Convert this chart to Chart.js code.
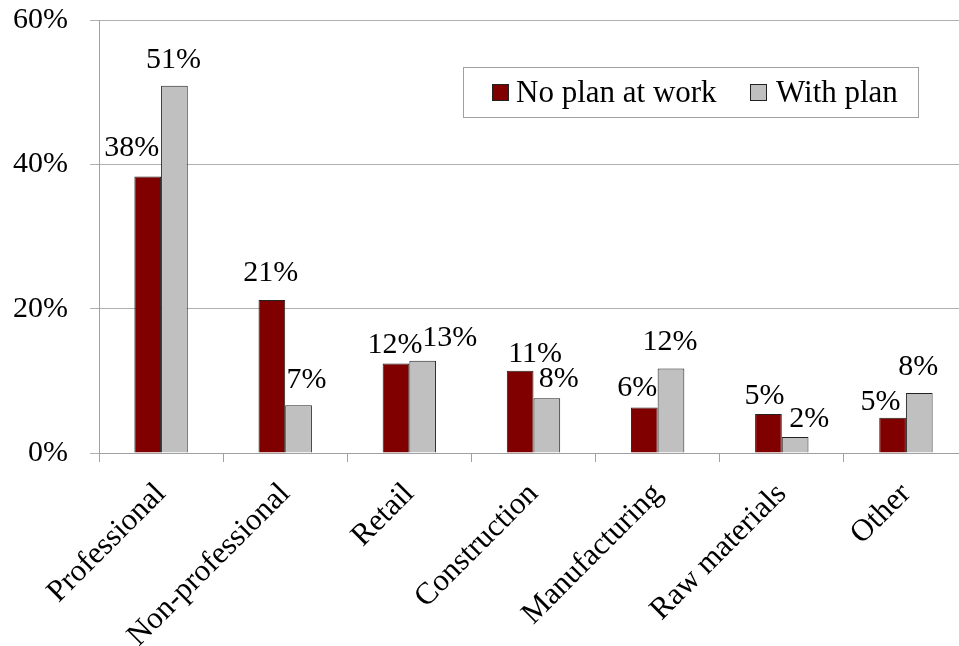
<!DOCTYPE html>
<html>
<head>
<meta charset="utf-8">
<script src="https://cdn.jsdelivr.net/npm/chart.js@4/dist/chart.umd.min.js"></script>
<style>
  html, body { margin: 0; padding: 0; background: #fff; overflow: hidden; }
  #wrap { position: relative; width: 980px; height: 666px; margin-top: -20px; }
</style>
</head>
<body>
<div id="wrap"><canvas id="chart"></canvas></div>
<script>
const categories = ["Professional", "Non-professional", "Retail", "Construction", "Manufacturing", "Raw materials", "Other"];
const noPlan = [38.3, 21.2, 12.4, 11.4, 6.3, 5.4, 4.9];
const withPlan = [50.9, 6.6, 12.8, 7.6, 11.7, 2.2, 8.3];
const yTicks = [0, 20, 40, 60];
const seriesNames = ["No plan at work", "With plan"];
const seriesColors = ["#800000", "#c0c0c0"];

const FONT = "'Liberation Serif', 'Times New Roman', serif";

// value labels sit above each bar; these nudge them sideways / set the gap
const labelNudge = [
  { dx: [-16, -1, -1, 15, -7, -4, -12], gap: [21, 19, 11, 9, 12, 10, 8] },
  { dx: [-1, 8, 27, 12, -1, 14, -1], gap: [18, 17, 15, 11, 19, 10, 18] }
];

const valueLabels = {
  id: "valueLabels",
  afterDatasetsDraw(chart) {
    const ctx = chart.ctx;
    ctx.save();
    ctx.font = "30px " + FONT;
    ctx.fillStyle = "#000";
    ctx.textAlign = "center";
    ctx.textBaseline = "alphabetic";
    chart.data.datasets.forEach((ds, di) => {
      chart.getDatasetMeta(di).data.forEach((bar, i) => {
        const n = labelNudge[di];
        ctx.fillText(Math.round(ds.data[i]) + "%", bar.x + n.dx[i], bar.y - n.gap[i]);
      });
    });
    ctx.restore();
  }
};

// boxed legend floating inside the plot, placed from the plot's top edge
const boxLegend = {
  id: "boxLegend",
  afterDraw(chart) {
    const ctx = chart.ctx;
    const top = chart.chartArea.top + 47;
    ctx.save();
    ctx.fillStyle = "#fff";
    ctx.fillRect(463, top, 455, 50);
    ctx.strokeStyle = "#a0a0a0";
    ctx.lineWidth = 1;
    ctx.strokeRect(463.5, top + 0.5, 455, 50);
    ctx.font = "31px " + FONT;
    ctx.textBaseline = "alphabetic";
    const items = [{ x: 492, tx: 516 }, { x: 750, tx: 776 }];
    items.forEach((it, k) => {
      ctx.fillStyle = seriesColors[k];
      ctx.fillRect(it.x, top + 17, 16, 16);
      ctx.strokeStyle = "#222";
      ctx.strokeRect(it.x + 0.5, top + 17.5, 16, 16);
      ctx.fillStyle = "#000";
      ctx.fillText(seriesNames[k], it.tx, top + 35);
    });
    ctx.restore();
  }
};

new Chart(document.getElementById("chart"), {
  type: "bar",
  data: {
    labels: categories,
    datasets: [noPlan, withPlan].map((vals, k) => ({
      label: seriesNames[k],
      data: vals,
      backgroundColor: seriesColors[k],
      borderColor: "#222",
      borderWidth: 1,
      categoryPercentage: 0.43,
      barPercentage: 1.0
    }))
  },
  options: {
    responsive: true,
    maintainAspectRatio: false,
    animation: false,
    layout: { padding: { top: 0, right: 12, left: 0, bottom: 0 } },
    plugins: {
      legend: { display: false },
      tooltip: { enabled: false }
    },
    scales: {
      x: {
        grid: { drawOnChartArea: false, drawTicks: true, tickLength: 9, color: "#a0a0a0" },
        border: { color: "#a0a0a0" },
        ticks: {
          autoSkip: false,
          minRotation: 45,
          maxRotation: 45,
          padding: 14,
          color: "#000",
          font: { family: FONT, size: 31 }
        },
        afterFit(scale) { scale.height = 193; }
      },
      y: {
        min: 0,
        max: 60,
        afterBuildTicks(scale) { scale.ticks = yTicks.map(v => ({ value: v })); },
        grid: { color: "#b0b0b0", tickLength: 9 },
        border: { color: "#a0a0a0" },
        ticks: {
          padding: 22,
          color: "#000",
          font: { family: FONT, size: 30 },
          callback: v => v + "%"
        },
        afterFit(scale) { scale.width = 99; }
      }
    }
  },
  plugins: [valueLabels, boxLegend]
});
</script>
</body>
</html>
